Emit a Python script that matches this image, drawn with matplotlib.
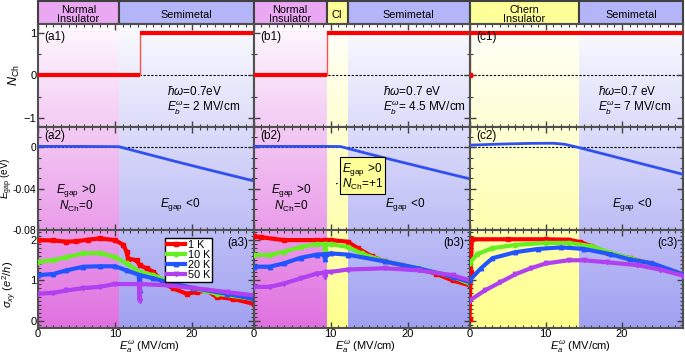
import matplotlib.pyplot as plt
import numpy as np
from matplotlib.patches import Rectangle
from matplotlib.colors import to_rgb
from matplotlib.ticker import MultipleLocator

plt.rcParams['font.family'] = ['Liberation Sans', 'DejaVu Sans']
plt.rcParams['mathtext.fontset'] = 'custom'
plt.rcParams['mathtext.rm'] = 'Liberation Sans'
plt.rcParams['mathtext.it'] = 'Liberation Sans:italic'

# ---- phase regions (MV/cm) ----
PINK, YELLOW, LAV = '#e070e0', '#ffff8c', '#a0a0f2'
BAR_PINK, BAR_YELLOW, BAR_LAV = '#eaa8f2', '#ffff99', '#b4b4f8'
regions_a = [(0, 10.5, 'ni'), (10.5, 28, 'sm')]
regions_b = [(0, 9.5, 'ni'), (9.5, 12.2, 'ci'), (12.2, 28, 'sm')]
regions_c = [(0, 14.4, 'ci'), (14.4, 28, 'sm')]
bar_labels_a = ['Normal\nInsulator', 'Semimetal']
bar_labels_b = ['Normal\nInsulator', 'CI', 'Semimetal']
bar_labels_c = ['Chern\nInsulator', 'Semimetal']
eb_values = ['2', '4.5', '7']
hw_labels = [r'$\hbar\omega$=0.7eV', r'$\hbar\omega$=0.7 eV', r'$\hbar\omega$=0.7 eV']

# ---- Chern number: jump position (NCh goes 0 -> 1) ----
nch_jump = [13.3, 9.5, 0.0]

# ---- gap (eV) ----
gap_a_x = [0, 5, 10.5, 14, 18, 22, 25, 28]
gap_a_y = [0.0008, 0.0008, 0.0005, -0.0063, -0.014, -0.0215, -0.027, -0.0325]
gap_b_x = [0, 5, 9.5, 11.3, 15, 19.2, 23, 28]
gap_b_y = [0.0008, 0.0008, 0.0008, 0.0006, -0.0066, -0.0144, -0.0214, -0.0305]
gap_c_x = [0, 4, 8, 11, 12.5, 14.3, 18, 22, 28]
gap_c_y = [0.002, 0.003, 0.0037, 0.0038, 0.0028, -0.0003, -0.0073, -0.0149, -0.0262]

# ---- Hall conductivity (e^2/h) ----
temps = ['1 K', '10 K', '20 K', '50 K']
t_colors = ['#ff0000', '#66ee22', '#2255ff', '#b040f0']
t_markers = ['s', 'o', '^', 'v']

a_1K_x = [0, 2, 3.7, 5, 6.5, 8, 10, 11.1, 11.5, 11.7, 12.8, 13.2, 14.1, 15, 16.3, 17.6, 19.3, 20.6, 21.9, 23.2, 25.4, 28]
a_1K_y = [2.0, 1.99, 1.96, 1.97, 2.01, 2.04, 2.0, 1.88, 1.71, 1.54, 1.5, 1.38, 1.3, 1.21, 0.93, 0.8, 0.67, 0.71, 0.75, 0.59, 0.54, 0.42]
a_10K_x = [0, 2, 3.7, 5.9, 8, 10, 11.5, 13.2, 15, 17.6, 20.2, 23.2, 28]
a_10K_y = [1.46, 1.5, 1.58, 1.67, 1.68, 1.58, 1.42, 1.21, 1.13, 0.92, 0.8, 0.67, 0.54]
a_20K_x = [0, 2, 3.7, 5.9, 8, 10, 11.5, 13.1, 13.2, 13.3, 15, 16.7, 20.2, 24.5, 28]
a_20K_y = [1.13, 1.16, 1.25, 1.34, 1.35, 1.35, 1.25, 1.14, 0.75, 1.13, 1.05, 0.96, 0.81, 0.67, 0.54]
a_50K_x = [0, 2, 3.7, 5.9, 8, 10, 13.1, 13.2, 13.3, 16.7, 20.2, 24.5, 28]
a_50K_y = [0.67, 0.69, 0.75, 0.81, 0.84, 0.91, 0.91, 0.5, 0.91, 0.88, 0.81, 0.71, 0.63]

b_1K_x = [0, 1, 3.9, 8.2, 9.2, 9.3, 9.4, 10, 12.2, 13.5, 15.3, 17, 19.2, 21.5, 23.6, 25.8, 28]
b_1K_y = [2.09, 2.07, 2.0, 2.0, 1.99, 1.92, 1.99, 2.0, 1.96, 1.8, 1.6, 1.47, 1.38, 1.28, 1.17, 1.0, 0.88]
b_10K_x = [0, 2.1, 3.9, 6.1, 8.2, 9.2, 9.3, 9.4, 10, 12.2, 14, 17, 21.4, 25.8, 28]
b_10K_y = [1.63, 1.63, 1.71, 1.83, 1.9, 1.9, 1.76, 1.9, 1.9, 1.83, 1.67, 1.47, 1.3, 1.09, 0.92]
b_20K_x = [0, 2.1, 3.9, 6.1, 8.2, 9.2, 9.3, 9.4, 10, 12.2, 17, 21.4, 25.8, 28]
b_20K_y = [1.34, 1.34, 1.42, 1.56, 1.64, 1.65, 1.52, 1.65, 1.67, 1.64, 1.47, 1.3, 1.09, 0.96]
b_50K_x = [0, 2.1, 3.9, 6.1, 8.2, 9.2, 9.3, 9.4, 10, 12.2, 17, 21.4, 25.8, 28]
b_50K_y = [0.84, 0.84, 0.92, 1.05, 1.17, 1.19, 1.09, 1.2, 1.21, 1.27, 1.3, 1.25, 1.13, 1.0]

c_1K_x = [0, 0.15, 0.3, 5, 10, 13, 14.5, 16, 18.2, 21, 23.8, 28]
c_1K_y = [0.05, 1.2, 2.02, 2.02, 2.02, 2.01, 1.95, 1.85, 1.68, 1.55, 1.42, 1.15]
c_10K_x = [0, 1, 3, 6, 10, 13, 16, 18.5, 21, 24, 28]
c_10K_y = [1.42, 1.65, 1.8, 1.88, 1.93, 1.93, 1.85, 1.68, 1.55, 1.4, 1.15]
c_20K_x = [0, 1.5, 3, 6, 9, 12, 15, 18.5, 21, 24, 28]
c_20K_y = [1.0, 1.3, 1.55, 1.7, 1.78, 1.82, 1.78, 1.65, 1.52, 1.42, 1.15]
c_50K_x = [0, 2, 4, 6, 8, 10, 13, 15, 18, 22, 25, 28]
c_50K_y = [0.5, 0.75, 0.95, 1.15, 1.3, 1.42, 1.5, 1.5, 1.45, 1.38, 1.27, 1.12]

W, H = 685, 354
EDGE = '#505050'
col_left = [38, 253.5, 469.5]
col_width = [215.5, 216, 213.5]
rows = [(24, 102.5), (126.5, 103.5), (230, 98)]
ylims = [(-1.2, 1.2), (-0.08, 0.02), (-0.18, 2.25)]
shade_col = {'ni': PINK, 'ci': YELLOW, 'sm': LAV}
bar_col = {'ni': BAR_PINK, 'ci': BAR_YELLOW, 'sm': BAR_LAV}


def px_rect(left, top, width, height):
    return [left / W, 1 - (top + height) / H, width / W, height / H]


def shade(ax, regions, top, height, ylim):
    """Вертикальный градиент от белого к цвету фазы"""
    t = np.linspace((top - 24) / 305, (top + height - 24) / 305, 60)
    t = 0.04 + 0.96 * t
    for x0, x1, kind in regions:
        rgb = np.array(to_rgb(shade_col[kind]))
        img = 1 - (1 - rgb)[None, :] * t[:, None]
        ax.imshow(img[:, None, :], extent=[x0, x1, ylim[0], ylim[1]],
                  aspect='auto', origin='upper', zorder=0, interpolation='bilinear')


def style(ax):
    for s in ax.spines.values():
        s.set_color(EDGE)
        s.set_linewidth(1.5)
    ax.tick_params(which='both', direction='in', top=True, right=True,
                   color='#404040', labelsize=8, pad=1)
    ax.tick_params(which='major', length=4, width=1)
    ax.tick_params(which='minor', length=2.5, width=0.8)
    ax.set_xlim(0, 28)
    ax.xaxis.set_major_locator(MultipleLocator(10))
    ax.xaxis.set_minor_locator(MultipleLocator(1))


fig = plt.figure(figsize=(W / 100, H / 100), dpi=100)

cols = [
    ('a', regions_a, bar_labels_a, gap_a_x, gap_a_y,
     [(a_1K_x, a_1K_y), (a_10K_x, a_10K_y), (a_20K_x, a_20K_y), (a_50K_x, a_50K_y)]),
    ('b', regions_b, bar_labels_b, gap_b_x, gap_b_y,
     [(b_1K_x, b_1K_y), (b_10K_x, b_10K_y), (b_20K_x, b_20K_y), (b_50K_x, b_50K_y)]),
    ('c', regions_c, bar_labels_c, gap_c_x, gap_c_y,
     [(c_1K_x, c_1K_y), (c_10K_x, c_10K_y), (c_20K_x, c_20K_y), (c_50K_x, c_50K_y)]),
]

for ci, (tag, regions, bar_labels, gx, gy, sigma) in enumerate(cols):
    left, width = col_left[ci], col_width[ci]

    # phase bar on top
    bar = fig.add_axes(px_rect(left, 1, width, 22.5))
    bar.set_xlim(0, 28)
    bar.set_ylim(0, 1)
    bar.axis('off')
    for (x0, x1, kind), lab in zip(regions, bar_labels):
        bar.add_patch(Rectangle((x0, 0), x1 - x0, 1, facecolor=bar_col[kind],
                                edgecolor='#404040', lw=1.5, clip_on=False))
        bar.text((x0 + x1) / 2, 0.4, lab, ha='center', va='center',
                 fontsize=7.8, linespacing=0.85)

    axes = []
    for ri, (top, h) in enumerate(rows):
        ax = fig.add_axes(px_rect(left, top, width, h))
        shade(ax, regions, top, h, ylims[ri])
        style(ax)
        ax.set_ylim(*ylims[ri])
        axes.append(ax)
    ax1, ax2, ax3 = axes

    # row 1: Chern number
    jump = nch_jump[ci]
    ax1.axhline(0, color='black', ls=(0, (2, 1.5)), lw=0.8, zorder=1)
    if jump > 0:
        ax1.plot([0, jump], [0, 0], color='#ff0000', lw=3, zorder=3, solid_capstyle='butt')
    else:
        ax1.plot([0], [0], 's', color='#ff0000', ms=3, zorder=3)
    ax1.plot([jump, jump], [0, 1], color='#ff5050', lw=1, zorder=2)
    ax1.plot([jump, 28], [1, 1], color='#ff0000', lw=3, zorder=3, solid_capstyle='butt',
             clip_on=False)
    ax1.set_yticks([-1, 0, 1])
    ax1.yaxis.set_minor_locator(MultipleLocator(0.5))
    ax1.tick_params(labelbottom=False)
    ax1.text(0.03, 0.93, '(%s1)' % tag, transform=ax1.transAxes, ha='left', va='top', fontsize=8.5)
    ax1.text(16.8, -0.37, hw_labels[ci], fontsize=8.5, va='center')
    ax1.text(16.8, -0.74, r'$E_b^{\omega}$= %s MV/cm' % eb_values[ci], fontsize=8.5, va='center')

    # row 2: gap
    ax2.axhline(0, color='black', ls=(0, (2, 1.5)), lw=0.8, zorder=1)
    ax2.plot(gx, gy, color='#3050f0', lw=2, zorder=3)
    ax2.set_yticks([-0.08, -0.04, 0])
    ax2.set_yticklabels(['-0.08', '-0.04', '0'])
    ax2.yaxis.set_minor_locator(MultipleLocator(0.01))
    ax2.tick_params(labelbottom=False, labelsize=7.5)
    ax2.text(0.03, 0.97, '(%s2)' % tag, transform=ax2.transAxes, ha='left', va='top', fontsize=8.5)

    # row 3: sigma_xy
    for (sx, sy), c, m, lab in zip(sigma, t_colors, t_markers, temps):
        ax3.plot(sx, sy, color=c, lw=3, marker=m, ms=3.2, zorder=3, label=lab)
    ax3.set_yticks([0, 1, 2])
    ax3.yaxis.set_minor_locator(MultipleLocator(0.1))
    ax3.text(0.975, 0.93, '(%s3)' % tag, transform=ax3.transAxes, ha='right', va='top', fontsize=8.5)
    fig.text((left + width / 2 + 4) / W, 1 - 346.5 / H, r'$E_a^{\omega}$ (MV/cm)',
             ha='center', va='center', fontsize=8)

    if ci == 0:
        ax1.set_ylabel(r'$N_{\rm Ch}$', fontsize=9)
        ax2.set_ylabel(r'$E_{\rm gap}$ (eV)', fontsize=7.2)
        ax3.set_ylabel(r'$\sigma_{xy}$ ($e^2/h$)', fontsize=8)
        ax1.yaxis.set_label_coords(-0.075, 0.5)
        ax2.yaxis.set_label_coords(-0.107, 0.5)
        ax3.yaxis.set_label_coords(-0.088, 0.45)
        ax3.legend(loc='upper left', bbox_to_anchor=(0.59, 0.92), fontsize=7.8,
                   frameon=True, fancybox=False, edgecolor='black', framealpha=1,
                   handlelength=1.6, handletextpad=0.3, labelspacing=0.0,
                   borderpad=0.2, borderaxespad=0)
    else:
        for ax in axes:
            ax.tick_params(labelleft=False)

    # phase annotations in row 2
    if tag in ('a', 'b'):
        ax2.text(4.9, -0.042, r'$E_{\rm gap}$ >0', ha='center', va='center', fontsize=8.5)
        ax2.text(4.9, -0.0575, r'$N_{\rm Ch}$=0', ha='center', va='center', fontsize=8.5)
    neg_x = {'a': 18.4, 'b': 19.7, 'c': 21.3}[tag]
    ax2.text(neg_x, -0.0555, r'$E_{\rm gap}$ <0', ha='center', va='center', fontsize=8.5)
    if tag == 'b':
        ax2.annotate(r'$E_{\rm gap}$ >0' + '\n' + r'$N_{\rm Ch}$=+1', xy=(10.4, -0.036),
                     xytext=(11.5, -0.0285), ha='left', va='center', fontsize=8.5,
                     linespacing=0.95,
                     bbox=dict(boxstyle='square,pad=0.15', facecolor='#ffff99', edgecolor='black', lw=0.8),
                     arrowprops=dict(arrowstyle='-', color='black', lw=0.8))

fig.savefig('out.png', dpi=100)
